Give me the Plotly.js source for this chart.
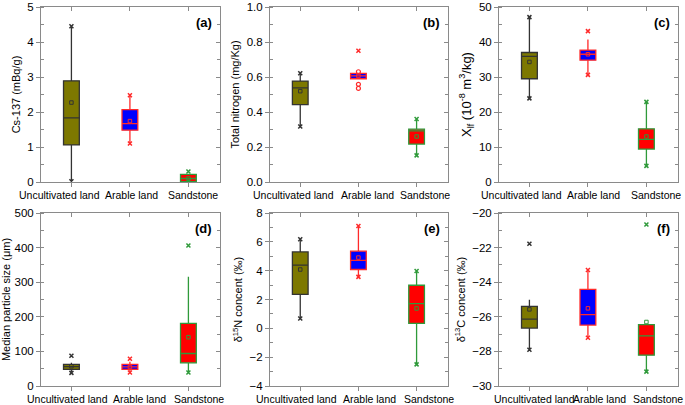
<!DOCTYPE html>
<html><head><meta charset="utf-8">
<script src="https://cdn.plot.ly/plotly-3.0.1.min.js"></script>
<style>html,body{margin:0;padding:0;background:#fff}#chart{width:685px;height:405px}</style>
</head><body><div id="chart"></div><script>
// ---------- data ----------
const categories = ['Uncultivated land', 'Arable land', 'Sandstone'];
const panelLabels = ['(a)', '(b)', '(c)', '(d)', '(e)', '(f)'];
const yTitles = [
  'Cs-137 (mBq/g)',
  'Total nitrogen (mg/Kg)',
  'X<sub>lf</sub> (10<sup>-8</sup> m<sup>3</sup>/kg)',
  'Median particle size (μm)',
  'δ<sup>15</sup>N concent (‰)',
  'δ<sup>13</sup>C concent (‰)'
];
const yRanges = [[0, 5], [0, 1], [0, 50], [0, 500], [-4, 8], [-30, -20]];
const yDticks = [1, 0.2, 10, 100, 2, 2];
const yTickFormats = ['', '.1f', '', '', '', ''];

// per panel: [Uncultivated, Arable, Sandstone]
const q1 = [
  [1.06, 1.48, 0.01],
  [0.442, 0.590, 0.217],
  [29.5, 34.8, 9.4],
  [48, 48, 67],
  [2.35, 4.08, 0.34],
  [-26.65, -26.48, -28.22]
];
const median = [
  [1.83, 1.67, 0.10],
  [0.538, 0.606, 0.292],
  [35.9, 36.5, 12.2],
  [55.8, 55, 94],
  [4.38, 4.72, 1.72],
  [-26.13, -25.88, -27.10]
];
const q3 = [
  [2.89, 2.07, 0.22],
  [0.577, 0.621, 0.302],
  [37.0, 37.7, 15.2],
  [62.5, 62.5, 181],
  [5.30, 5.35, 2.99],
  [-25.40, -24.41, -26.45]
];
const whiskerLow = [
  [0.02, 1.10, 0.01],
  [0.317, 0.590, 0.152],
  [23.9, 30.6, 4.6],
  [38, 39, 39],
  [0.68, 3.57, -2.5],
  [-27.91, -27.21, -29.17]
];
const whiskerHigh = [
  [4.45, 2.48, 0.22],
  [0.621, 0.621, 0.36],
  [47.1, 40.7, 22.9],
  [67, 70, 316],
  [6.18, 7.1, 3.98],
  [-25.01, -23.29, -26.45]
];
const means = [
  [2.27, 1.74, 0.10],
  [0.519, 0.606, 0.26],
  [34.3, 36.5, 13.0],
  [57, 55, 141],
  [4.08, 4.91, 1.38],
  [-25.57, -25.51, -26.3]
];
// min / max / outlier points drawn as crosses
const crossPoints = [
  [[4.45, 0.02], [2.48, 1.10], [0.30, 0.02]],
  [[0.621, 0.317], [0.75], [0.36, 0.152]],
  [[47.1, 23.9], [43.1, 30.6], [22.9, 4.6]],
  [[87.5, 38], [79, 39], [406, 39]],
  [[6.18, 0.68], [7.1, 3.57], [3.98, -2.5]],
  [[-21.78, -27.91], [-23.29, -27.21], [-20.66, -29.17]]
];
// percentile points drawn as open circles
const circlePoints = [
  [[], [], []],
  [[], [0.63, 0.558, 0.535], []],
  [[], [], []],
  [[], [], []],
  [[], [], []],
  [[], [], []]
];

// ---------- styles ----------
const fillColors = ['#7d7800', '#0000ff', '#ff0000'];
const lineColors = ['#333333', '#ff2a2a', '#2f9a3a'];
const W = 685, H = 405;
const colPx = [[41, 220], [270, 448], [499, 678]];
const rowPx = [[7, 182], [213, 386]];
const labelShift = [[-12, 2, 5], [-7, 9, 8], [-8, 6, 10], [-4, 10, 11], [-4, 11, 12], [5, 12, 12]];
const FONT = 'Liberation Sans, Arial, sans-serif';
const AXC = '#8a8a8a';

const traces = [];
const layout = {
  width: W, height: H,
  margin: {l: 0, r: 0, t: 0, b: 0},
  paper_bgcolor: '#fff', plot_bgcolor: '#fff',
  showlegend: false,
  boxmode: 'overlay',
  font: {family: FONT, color: '#000'},
  annotations: []
};

for (let p = 0; p < 6; p++) {
  const col = p % 3, row = Math.floor(p / 3);
  const xs = p === 0 ? '' : String(p + 1);
  const xa = 'x' + xs, ya = 'y' + xs;
  const xd = [colPx[col][0] / W, colPx[col][1] / W];
  const yd = [1 - rowPx[row][1] / H, 1 - rowPx[row][0] / H];
  const xr = [-0.52, 2.54];

  for (let c = 0; c < 3; c++) {
    traces.push({
      type: 'box', orientation: 'v', xaxis: xa, yaxis: ya,
      x: [categories[c]],
      q1: [q1[p][c]], median: [median[p][c]], q3: [q3[p][c]],
      lowerfence: [whiskerLow[p][c]], upperfence: [whiskerHigh[p][c]],
      fillcolor: fillColors[c],
      line: {color: lineColors[c], width: 1.3},
      width: 0.27, whiskerwidth: 0, boxpoints: false,
      hoverinfo: 'skip', showlegend: false
    });
    traces.push({
      type: 'scatter', mode: 'markers', xaxis: xa, yaxis: ya,
      x: [categories[c]], y: [means[p][c]],
      marker: {symbol: 'square-open', size: 3.5, color: lineColors[c], line: {width: 1, color: lineColors[c]}},
      hoverinfo: 'skip'
    });
    const cp = crossPoints[p][c];
    traces.push({
      type: 'scatter', mode: 'markers', xaxis: xa, yaxis: ya,
      x: cp.map(() => categories[c]), y: cp,
      marker: {symbol: 'x-thin-open', size: 4, color: lineColors[c], line: {width: 1.5, color: lineColors[c]}},
      hoverinfo: 'skip'
    });
    const cc = circlePoints[p][c];
    if (cc.length) {
      traces.push({
        type: 'scatter', mode: 'markers', xaxis: xa, yaxis: ya,
        x: cc.map(() => categories[c]), y: cc,
        marker: {symbol: 'circle-open', size: 4, color: lineColors[c], line: {width: 1.2, color: lineColors[c]}},
        hoverinfo: 'skip'
      });
    }
    // category label under its tick
    layout.annotations.push({
      xref: xa, yref: 'paper', x: categories[c], y: yd[0],
      xanchor: 'center', yanchor: 'middle', yshift: -13, xshift: labelShift[p][c],
      showarrow: false, text: categories[c],
      font: {size: 10.5, family: FONT, color: '#000'}
    });
  }

  layout['xaxis' + xs] = {
    domain: xd, anchor: ya, type: 'category',
    categoryorder: 'array', categoryarray: categories,
    range: xr, showgrid: false, zeroline: false,
    showline: true, linecolor: AXC, linewidth: 1, mirror: true,
    ticks: 'outside', ticklen: 4, tickcolor: AXC,
    showticklabels: false,
    automargin: false, fixedrange: true
  };
  layout['yaxis' + xs] = {
    domain: yd, anchor: xa, range: yRanges[p],
    dtick: yDticks[p], tick0: yRanges[p][0], tickformat: yTickFormats[p],
    showgrid: false, zeroline: false,
    showline: true, linecolor: AXC, linewidth: 1, mirror: true,
    ticks: 'outside', ticklen: 4, tickcolor: AXC,
    minor: {dtick: yDticks[p] / 2, ticks: 'inside', ticklen: 3, tickcolor: AXC},
    tickfont: {size: 11.5, family: FONT, color: '#000'},
    title: {text: yTitles[p], font: {size: p === 2 ? 13 : 11, family: FONT, color: '#000'}, standoff: 4},
    automargin: false, fixedrange: true
  };
  // inside ticks on the top and right frames
  const ox = 7 + p;
  layout['xaxis' + ox] = {
    overlaying: xa, anchor: ya, side: 'top', type: 'linear', range: xr,
    tickvals: [0, 1, 2], ticks: 'inside', ticklen: 4, tickcolor: AXC,
    showticklabels: false, showgrid: false, zeroline: false, showline: false, fixedrange: true
  };
  layout['yaxis' + ox] = {
    overlaying: ya, anchor: xa, side: 'right', range: yRanges[p],
    dtick: yDticks[p], tick0: yRanges[p][0],
    ticks: 'inside', ticklen: 4, tickcolor: AXC,
    minor: {dtick: yDticks[p] / 2, ticks: 'inside', ticklen: 3, tickcolor: AXC},
    showticklabels: false, showgrid: false, zeroline: false, showline: false, fixedrange: true
  };
  traces.push({type: 'scatter', mode: 'markers', x: [], y: [], xaxis: 'x' + ox, yaxis: 'y' + ox, hoverinfo: 'skip'});

  layout.annotations.push({
    xref: 'paper', yref: 'paper',
    x: (colPx[col][1] - 6) / W, y: 1 - (rowPx[row][0] + 15) / H,
    xanchor: 'right', yanchor: 'middle', showarrow: false,
    text: '<b>' + panelLabels[p] + '</b>',
    font: {size: 13, family: FONT, color: '#000'}
  });
}

Plotly.newPlot('chart', traces, layout, {staticPlot: true, displayModeBar: false});
</script></body></html>
